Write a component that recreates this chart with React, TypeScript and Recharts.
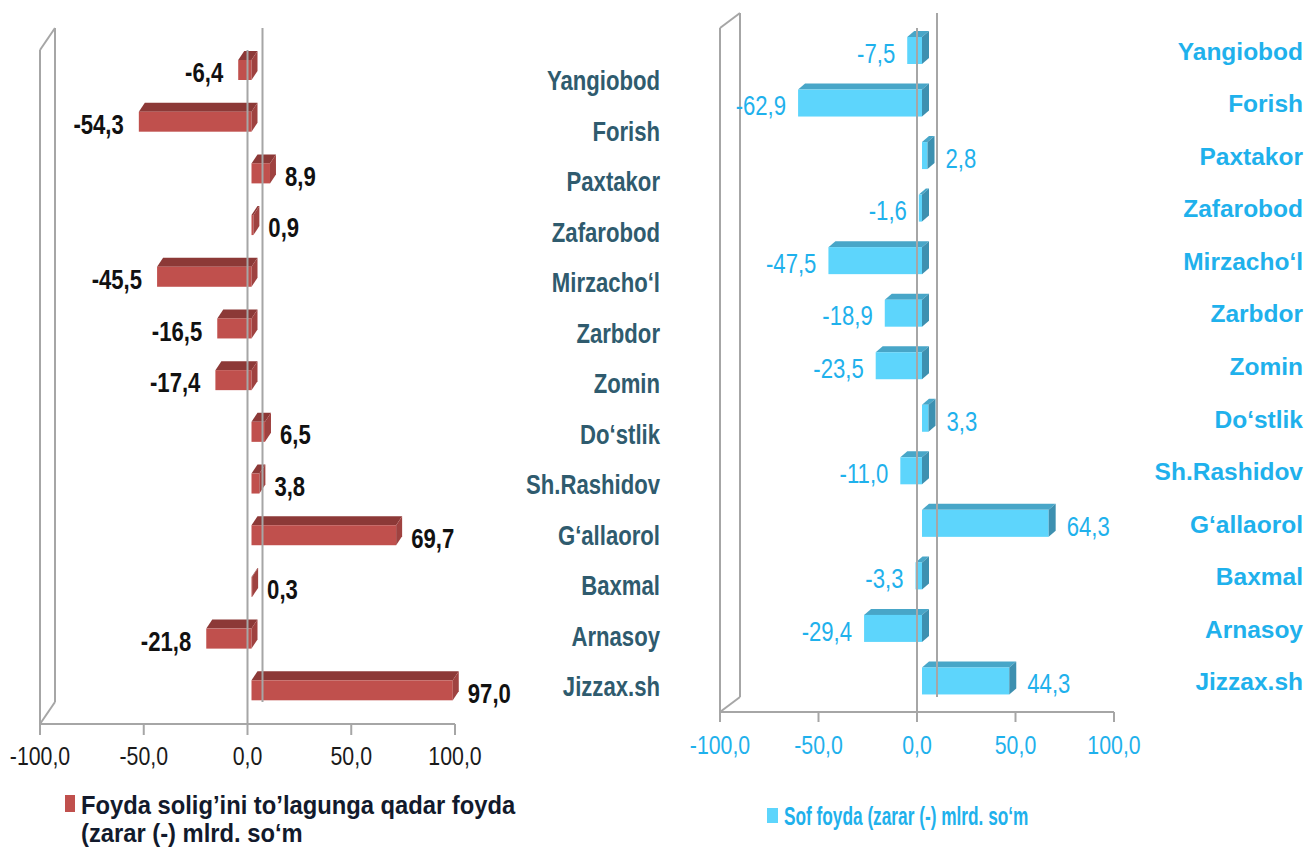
import React from 'react'
import { BarChart, Bar, XAxis, YAxis, ReferenceLine, LabelList, Legend } from 'recharts'

const categories = [
  'Yangiobod', 'Forish', 'Paxtakor', 'Zafarobod', 'Mirzacho‘l', 'Zarbdor', 'Zomin',
  'Do‘stlik', 'Sh.Rashidov', 'G‘allaorol', 'Baxmal', 'Arnasoy', 'Jizzax.sh',
]
const profitBeforeTax = [-6.4, -54.3, 8.9, 0.9, -45.5, -16.5, -17.4, 6.5, 3.8, 69.7, 0.3, -21.8, 97.0]
const netProfit = [-7.5, -62.9, 2.8, -1.6, -47.5, -18.9, -23.5, 3.3, -11.0, 64.3, -3.3, -29.4, 44.3]
const xTicks = [-100, -50, 0, 50, 100]

const leftName = 'Foyda solig’ini to’lagunga qadar foyda (zarar (-) mlrd. so‘m'
const rightName = 'Sof foyda (zarar (-) mlrd. so‘m'

// no Arial Narrow in the sandbox, so Liberation Sans gets squeezed horizontally
const FONT = '"Liberation Sans", Arial, sans-serif'
const NARROW = 0.82
const GRID = '#a6a6a6'

const fmt = (v: number) => v.toFixed(1).replace('.', ',')

type Theme = {
  width: number
  margin: { top: number; left: number; right: number; bottom: number }
  yWidth: number
  padTop: number
  padBottom: number
  wallDx: number
  wallDy: number
  front: string
  top: string
  side: string
  shift: number
  dx: number
  dy: number
  face: number
  valueColor: string
  valueWeight: number
  valueDy: number
  negGap: number
  posGap: number
  catColor: string
  catSize: number
  catScale: number
  catX: number
  catDy: (i: number) => number
  tickColor: string
  tickMargin: number
  tickSize: number
  legendStyle: React.CSSProperties
  legendColor: string
  legendScale: number
  legendTextWidth: number
  legendSquare: { w: number; h: number; top: number }
}

const leftTheme: Theme = {
  width: 680,
  margin: { top: 28, left: 40, right: 0, bottom: 65 },
  yWidth: 225,
  padTop: 13,
  padBottom: 11,
  wallDx: 15,
  wallDy: 22,
  front: '#c0504d',
  top: '#8c3937',
  side: '#9f4240',
  shift: 4,
  dx: 6,
  dy: 9,
  face: 20,
  valueColor: '#111111',
  valueWeight: 700,
  valueDy: 3,
  negGap: 15,
  posGap: 9,
  catColor: '#2f5b6e',
  catSize: 27,
  catScale: NARROW,
  catX: 205,
  catDy: (i) => 14 * (1 - i / 12),
  tickColor: '#1a1a1a',
  tickMargin: 12,
  tickSize: 11,
  legendStyle: { left: 65, top: 791, width: 520 },
  legendColor: '#121a2c',
  legendScale: 0.95,
  legendTextWidth: 490,
  legendSquare: { w: 10, h: 17, top: 4 },
}

const rightTheme: Theme = {
  width: 629,
  margin: { top: 13, left: 40, right: 0, bottom: 77 },
  yWidth: 195,
  padTop: 9,
  padBottom: 7,
  wallDx: 20,
  wallDy: 15,
  front: '#5dd5fc',
  top: '#48a6c8',
  side: '#3d90b0',
  shift: 5,
  dx: 7,
  dy: 6,
  face: 27,
  valueColor: '#1fb1ec',
  valueWeight: 400,
  valueDy: 3,
  negGap: 12,
  posGap: 11,
  catColor: '#1fb1ec',
  catSize: 24.5,
  catScale: 1,
  catX: 189,
  catDy: () => 3,
  tickColor: '#1fb1ec',
  tickMargin: 14,
  tickSize: 10,
  legendStyle: { left: 87, top: 802, width: 400 },
  legendColor: '#1fb1ec',
  legendScale: 0.69,
  legendTextWidth: 500,
  legendSquare: { w: 11, h: 15, top: 6 },
}

const barBox = (p: any, t: Theme) => {
  const vb = p.viewBox ?? p
  const x = vb.x ?? p.x
  const w = vb.width ?? p.width
  const left = Math.min(x, x + w) + t.shift
  const right = Math.max(x, x + w) + t.shift
  return { left, right, y: vb.y ?? p.y }
}

function SqueezedText({ x, y, scale, children, ...rest }: any) {
  return (
    <text transform={`translate(${x} ${y}) scale(${scale} 1)`} x={0} y={0} fontFamily={FONT} {...rest}>
      {children}
    </text>
  )
}

function makeShape(t: Theme) {
  return (p: any) => {
    const { left, right, y } = barBox(p, t)
    const fy = y + t.dy
    const fb = fy + t.face
    return (
      <g>
        <polygon points={`${left},${fy} ${right},${fy} ${right + t.dx},${y} ${left + t.dx},${y}`} fill={t.top} />
        <rect x={left} y={fy} width={right - left} height={t.face} fill={t.front} />
        <polygon points={`${right},${fy} ${right + t.dx},${y} ${right + t.dx},${y + t.face} ${right},${fb}`} fill={t.side} />
      </g>
    )
  }
}

function makeValueLabel(t: Theme) {
  return (p: any) => {
    const { left, right, y } = barBox(p, t)
    const value = Number(p.value)
    const neg = value < 0
    return (
      <SqueezedText
        x={neg ? left - t.negGap : right + t.dx + t.posGap}
        y={y + t.dy + t.face / 2 + t.valueDy}
        scale={NARROW}
        textAnchor={neg ? 'end' : 'start'}
        dominantBaseline="central"
        fill={t.valueColor}
        fontWeight={t.valueWeight}
        fontSize={27}
      >
        {fmt(value)}
      </SqueezedText>
    )
  }
}

function makeCategoryTick(t: Theme) {
  return (p: any) => {
    const i = p.index ?? p.payload?.index ?? 0
    return (
      <SqueezedText
        x={p.x + t.catX}
        y={p.y + t.catDy(i)}
        scale={t.catScale}
        textAnchor="end"
        dominantBaseline="central"
        fill={t.catColor}
        fontWeight={700}
        fontSize={t.catSize}
      >
        {p.payload.value}
      </SqueezedText>
    )
  }
}

function makeValueTick(t: Theme) {
  return (p: any) => (
    <SqueezedText x={p.x} y={p.y + 0.71 * 26} scale={NARROW} textAnchor="middle" fill={t.tickColor} fontSize={26}>
      {fmt(Number(p.payload.value))}
    </SqueezedText>
  )
}

function makeWall(t: Theme) {
  return (p: any) => {
    const x = p.x1
    const top = Math.min(p.y1, p.y2)
    const bottom = Math.max(p.y1, p.y2)
    return (
      <g stroke={GRID} strokeWidth={2} fill="none">
        <line x1={x} y1={top + t.wallDy} x2={x} y2={bottom} />
        <line x1={x + t.wallDx} y1={top} x2={x + t.wallDx} y2={bottom - t.wallDy} />
        <line x1={x} y1={top + t.wallDy} x2={x + t.wallDx} y2={top} />
        <line x1={x} y1={bottom} x2={x + t.wallDx} y2={bottom - t.wallDy} />
      </g>
    )
  }
}

function makeBackZero(t: Theme) {
  return (p: any) => {
    const top = Math.min(p.y1, p.y2)
    const bottom = Math.max(p.y1, p.y2)
    return <line x1={p.x1 + t.wallDx} y1={top} x2={p.x1 + t.wallDx} y2={bottom - t.wallDy} stroke={GRID} strokeWidth={2} />
  }
}

function makeFrontZero(t: Theme) {
  return (p: any) => {
    const top = Math.min(p.y1, p.y2)
    const bottom = Math.max(p.y1, p.y2)
    return <line x1={p.x1} y1={top + t.wallDy} x2={p.x1} y2={bottom} stroke={GRID} strokeWidth={2} />
  }
}

function makeLegend(t: Theme) {
  return (props: any) => {
    const item = props.payload?.[0]
    if (!item) return null
    const sq = t.legendSquare
    return (
      <div style={{ display: 'flex', alignItems: 'flex-start', fontFamily: FONT, fontWeight: 700, fontSize: 25, lineHeight: '28px', color: t.legendColor }}>
        <span style={{ display: 'inline-block', width: sq.w, height: sq.h, background: item.color, marginTop: sq.top, marginRight: 6, flex: 'none' }} />
        <span style={{ display: 'block', width: t.legendTextWidth, transform: `scaleX(${t.legendScale})`, transformOrigin: 'left top' }}>{item.value}</span>
      </div>
    )
  }
}

function Chart3D({ values, name, t }: { values: number[]; name: string; t: Theme }) {
  const data = categories.map((c, i) => ({ name: c, value: values[i] }))
  return (
    <BarChart width={t.width} height={849} data={data} layout="vertical" margin={t.margin} barSize={t.dy + t.face + 2}>
      <XAxis
        type="number"
        domain={[-100, 100]}
        ticks={xTicks}
        interval={0}
        height={60}
        axisLine={{ stroke: GRID, strokeWidth: 2 }}
        tickLine={{ stroke: GRID, strokeWidth: 2 }}
        tickSize={t.tickSize}
        tickMargin={t.tickMargin}
        tick={makeValueTick(t)}
      />
      <YAxis
        type="category"
        dataKey="name"
        orientation="right"
        width={t.yWidth}
        axisLine={false}
        tickLine={false}
        tickSize={0}
        tickMargin={0}
        interval={0}
        padding={{ top: t.padTop, bottom: t.padBottom }}
        tick={makeCategoryTick(t)}
      />
      <ReferenceLine x={-100} shape={makeWall(t)} />
      <ReferenceLine x={0} shape={makeBackZero(t)} />
      <Bar dataKey="value" name={name} fill={t.front} shape={makeShape(t)} isAnimationActive={false}>
        <LabelList dataKey="value" content={makeValueLabel(t)} />
      </Bar>
      <ReferenceLine x={0} shape={makeFrontZero(t)} />
      <Legend layout="vertical" align="center" verticalAlign="middle" wrapperStyle={t.legendStyle} content={makeLegend(t)} />
    </BarChart>
  )
}

export default function App() {
  return (
    <div style={{ position: 'absolute', left: 0, top: 0, width: 1309, height: 849, background: '#fff', overflow: 'hidden' }}>
      <div style={{ position: 'absolute', left: 0, top: 0 }}>
        <Chart3D values={profitBeforeTax} name={leftName} t={leftTheme} />
      </div>
      <div style={{ position: 'absolute', left: 680, top: 0 }}>
        <Chart3D values={netProfit} name={rightName} t={rightTheme} />
      </div>
    </div>
  )
}
